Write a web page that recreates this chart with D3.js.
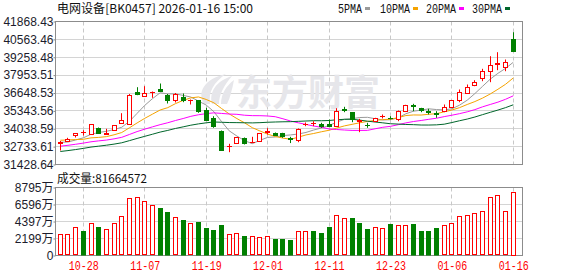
<!DOCTYPE html>
<html>
<head>
<meta charset="utf-8">
<script src="https://cdn.jsdelivr.net/npm/d3@7"></script>
<style>
  html, body { margin: 0; padding: 0; background: #fff; }
  svg { display: block; }
</style>
</head>
<body>
<svg id="chart" width="578" height="276"></svg>
<script>
// trading days shown on the chart
const dates = ["10-23","10-24","10-27","10-28","10-29","10-30","10-31","11-03","11-04","11-05",
  "11-06","11-07","11-10","11-11","11-12","11-13","11-14","11-17","11-18","11-19",
  "11-20","11-21","11-24","11-25","11-26","11-27","11-28","12-01","12-02","12-03",
  "12-04","12-05","12-08","12-09","12-10","12-11","12-12","12-15","12-16","12-17",
  "12-18","12-19","12-22","12-23","12-24","12-25","12-26","12-29","12-30","12-31",
  "01-05","01-06","01-07","01-08","01-09","01-12","01-13","01-14","01-15","01-16"];

const opens = [33020,33159,33597,33772,33619,34108,33670,33933,34473,34349,
  36758,36466,36714,36955,36539,36101,36371,36116,36101,35408,
  34809,33860,32750,32993,33378,33057,33108,33823,33743,33692,
  33342,33181,34386,34429,34386,34386,34225,35459,35247,34626,
  34312,34590,34940,34838,34765,35320,35751,35517,35313,35203,
  35298,35641,36123,36663,37247,37729,38240,38787,38561,40627];
const closes = [33050,33305,33692,33787,34349,33692,33743,34298,34663,36488,
  36612,36663,36736,36809,36101,36612,36101,36152,35320,34663,
  34203,32473,32779,33415,32993,33086,33692,33853,33568,33510,
  33312,34035,34415,34459,34240,34203,35298,35422,34714,34656,
  34276,34787,34970,34802,35349,35758,35714,35371,35276,35079,
  35641,36101,36707,37101,37488,38291,38729,38817,38926,39700];
const highs = [33145,33378,33700,33933,34360,34130,34035,34312,35174,36576,
  37072,37145,36758,37342,36576,36648,36612,36174,36138,35568,
  34955,33911,32940,33437,33400,33451,33729,34079,33765,33743,
  33451,34057,34495,34590,34473,34714,35539,35641,35261,34765,
  34473,34838,35079,34955,35371,35787,35860,35568,35495,35320,
  35809,36138,36904,37269,37583,38415,39335,39627,39094,41087];
const lows = [32451,33108,33400,33546,33582,33656,33656,33911,34459,34312,
  36488,36444,36298,36736,35882,35955,35977,35809,35203,34641,
  34108,32451,32327,32978,32889,32993,33072,33619,33546,33378,
  32993,33057,34225,34225,34108,34167,34203,35247,34517,33787,
  34108,34568,34787,34714,34590,35298,35320,35247,35079,34838,
  35247,35626,35977,36612,37145,37510,37437,38313,38240,39690];

// closes before 10-23 (estimated from where the MA lines start)
const earlierCloses = [31300,31450,31200,31500,31700,31650,31900,31750,31800,31790,
  32000,32200,32100,32400,32350,32600,32500,32450,32300,32400,
  33100,33400,33600,33300,33350,33200,32950,33000,33050];

// volume, in 万
const volumes = [2716,2716,3582,3142,4138,3750,3362,4138,5043,7331,
  7461,6982,6465,6116,5599,4913,4655,4138,4306,3620,
  3362,4008,2716,2845,2586,2457,2327,2457,2198,2198,
  1978,3103,3103,3233,2974,3750,5172,4745,4913,4267,
  3491,3620,3491,4138,3879,3879,4138,3233,3233,3620,
  3879,4138,5043,5172,5431,5650,7461,7758,5650,8166];
// 1 = red volume bar (close above previous close), 0 = green
const volUp = [1,1,1,0,1,0,1,1,1,1, 1,1,1,0,0,1,0,1,0,0,
  0,0,1,1,0,1,1,1,0,0, 0,1,1,0,0,0,1,1,0,0,
  0,1,1,0,1,1,0,0,0,0, 1,1,1,1,1,1,1,1,1,1];

const priceTicks = [41868.43,40563.46,39258.48,37953.51,36648.53,35343.56,34038.59,32733.61,31428.64];
const volTicks = [0,2199,4397,6596,8795];
const xTicks = ["10-28","11-07","11-19","12-01","12-11","12-23","01-06","01-16"];

const maPeriods = [5,10,20,30];
const maColors = ["#9a9a9a","#f5a300","#ff00ff","#00662b"];
const maNames = ["5PMA","10PMA","20PMA","30PMA"];

const RED = "#ff0000", GREEN = "#008000";
const left = 55.5, right = 522.5;
const mainTop = 21.5, mainBot = 164.5, volTop = 187.5, volBot = 255.5;

const svg = d3.select("#chart");

const x = d3.scalePoint().domain(dates).range([60.3, 513.3]);
const y = d3.scaleLinear().domain([priceTicks[8], priceTicks[0]]).range([mainBot, mainTop]);
const yv = d3.scaleLinear().domain([0, volTicks[4]]).range([volBot, volTop]);
const cx = d => Math.floor(x(d)) + 0.5;
const snap = v => Math.round(v - 0.5) + 0.5;

// grid
const grid = svg.append("g");
grid.selectAll(".hp").data(priceTicks).join("line")
  .attr("x1", left).attr("x2", right)
  .attr("y1", d => snap(y(d))).attr("y2", d => snap(y(d)))
  .attr("stroke", "#d4d4d4");
grid.selectAll(".hv").data(volTicks).join("line")
  .attr("x1", left).attr("x2", right)
  .attr("y1", d => snap(yv(d))).attr("y2", d => snap(yv(d)))
  .attr("stroke", "#d4d4d4");
[[mainTop, mainBot], [volTop, volBot]].forEach(([t, b]) => {
  grid.append("g").selectAll("line").data(xTicks).join("line")
    .attr("x1", cx).attr("x2", cx).attr("y1", t).attr("y2", b)
    .attr("stroke", "#c8c8c8").attr("stroke-dasharray", "4,3");
});

// watermark
const wm = svg.append("g").attr("fill", "#e6e6ea");
wm.append("path").attr("d", "M204 104 C197 92 204 79 226 74 C214 82 208 92 210 104 Z");
wm.append("path").attr("d", "M212 104 C209 92 216 81 232 76 C224 85 219 95 219 104 Z");
wm.append("path").attr("d", "M221 104 C221 94 226 86 234 80 C232 90 230 98 227 104 Z");
wm.append("text").attr("x", 236).attr("y", 106)
  .attr("font-family", "Noto Sans CJK SC").attr("font-weight", "bold")
  .attr("font-size", 36).text("东方财富");

// frames
[[mainTop, mainBot], [volTop, volBot]].forEach(([t, b]) => {
  svg.append("rect").attr("x", left).attr("y", t)
    .attr("width", right - left).attr("height", b - t)
    .attr("fill", "none").attr("stroke", "#8c8c8c");
});

// moving averages
const allCloses = earlierCloses.concat(closes);
const off = earlierCloses.length;
const line = d3.line().x((d, i) => x(dates[i])).y(d => y(d));
maPeriods.forEach((n, k) => {
  const vals = closes.map((c, i) => d3.mean(allCloses.slice(off + i - n + 1, off + i + 1)));
  svg.append("path").datum(vals).attr("d", line)
    .attr("fill", "none").attr("stroke", maColors[k]).attr("stroke-width", 1);
});

// candles
const candles = svg.append("g");
dates.forEach((d, i) => {
  const c = cx(d);
  const o = opens[i], cl = closes[i];
  const up = cl >= o;
  const col = up ? RED : GREEN;
  const top = Math.round(y(Math.max(o, cl))), bot = Math.round(y(Math.min(o, cl)));
  const hi = y(highs[i]), lo = y(lows[i]);
  const g = candles.append("g").attr("stroke", col);
  if (bot - top < 1) {
    g.append("line").attr("x1", c).attr("x2", c).attr("y1", hi).attr("y2", lo);
    g.append("line").attr("x1", c - 2.5).attr("x2", c + 2.5).attr("y1", top + 0.5).attr("y2", top + 0.5);
  } else if (up) {
    g.append("line").attr("x1", c).attr("x2", c).attr("y1", hi).attr("y2", top + 0.5);
    g.append("line").attr("x1", c).attr("x2", c).attr("y1", bot + 0.5).attr("y2", lo);
    g.append("rect").attr("x", c - 2).attr("y", top + 0.5)
      .attr("width", 4).attr("height", bot - top).attr("fill", "#fff");
  } else {
    g.append("line").attr("x1", c).attr("x2", c).attr("y1", hi).attr("y2", lo);
    g.append("rect").attr("x", c - 2.5).attr("y", top)
      .attr("width", 5).attr("height", bot - top + 1).attr("fill", col).attr("stroke", "none");
  }
});

// volume bars
svg.append("g").selectAll("rect").data(dates).join("rect")
  .attr("x", (d, i) => volUp[i] ? cx(d) - 2 : cx(d) - 2.5)
  .attr("y", (d, i) => volUp[i] ? snap(yv(volumes[i])) : Math.round(yv(volumes[i])))
  .attr("width", (d, i) => volUp[i] ? 4 : 5)
  .attr("height", (d, i) => volBot - Math.round(yv(volumes[i])) - (volUp[i] ? 0.5 : 0))
  .attr("fill", (d, i) => volUp[i] ? "#fff" : GREEN)
  .attr("stroke", (d, i) => volUp[i] ? RED : "none");

// axes
const axisFont = "'Liberation Sans', Arial, 'Noto Sans CJK SC', sans-serif";
const yAxis = svg.append("g").attr("transform", `translate(${left},0)`)
  .call(d3.axisLeft(y).tickValues(priceTicks).tickFormat(d3.format(".2f")).tickSize(2).tickPadding(0));
const yvAxis = svg.append("g").attr("transform", `translate(${left},0)`)
  .call(d3.axisLeft(yv).tickValues(volTicks).tickFormat(d => d === 0 ? "0" : d + "万").tickSize(2).tickPadding(0));
[yAxis, yvAxis].forEach(a => {
  a.select(".domain").remove();
  a.selectAll("line").attr("stroke", "#8c8c8c");
  a.selectAll("text").attr("font-family", axisFont).attr("font-size", 12).attr("fill", "#1c1c2c");
});
const xAxis = svg.append("g").attr("transform", `translate(0,${volBot})`)
  .call(d3.axisBottom(x).tickValues(xTicks).tickSize(0).tickPadding(6));
xAxis.select(".domain").remove();
xAxis.selectAll("text").attr("font-family", "'Liberation Mono', monospace")
  .attr("font-size", 12).attr("fill", RED)
  .attr("textLength", 30).attr("lengthAdjust", "spacingAndGlyphs");

// title, legend, volume label
const cjk = "'Noto Sans CJK SC', sans-serif";
svg.append("text").attr("x", 57).attr("y", 13).attr("font-family", cjk).attr("font-size", 12)
  .attr("fill", "#111").attr("textLength", 196).attr("lengthAdjust", "spacingAndGlyphs")
  .text("电网设备[BK0457] 2026-01-16 15:00");
svg.append("text").attr("x", 57).attr("y", 182.5).attr("font-family", cjk).attr("font-size", 12)
  .attr("fill", "#111").attr("textLength", 90).attr("lengthAdjust", "spacingAndGlyphs")
  .text("成交量:81664572");

const legendX = [338, 380, 426, 472];
const legend = svg.append("g").selectAll("g").data(maNames).join("g")
  .attr("transform", (d, i) => `translate(${legendX[i]},0)`);
legend.append("text").attr("y", 12.5).attr("font-family", "'Liberation Mono', monospace")
  .attr("font-size", 12).attr("fill", "#111")
  .attr("textLength", d => d.length * 6).attr("lengthAdjust", "spacingAndGlyphs").text(d => d);
legend.append("rect").attr("x", d => d.length * 6 + 3).attr("y", 7).attr("width", 5).attr("height", 3)
  .attr("fill", (d, i) => maColors[i]);
</script>
</body>
</html>
